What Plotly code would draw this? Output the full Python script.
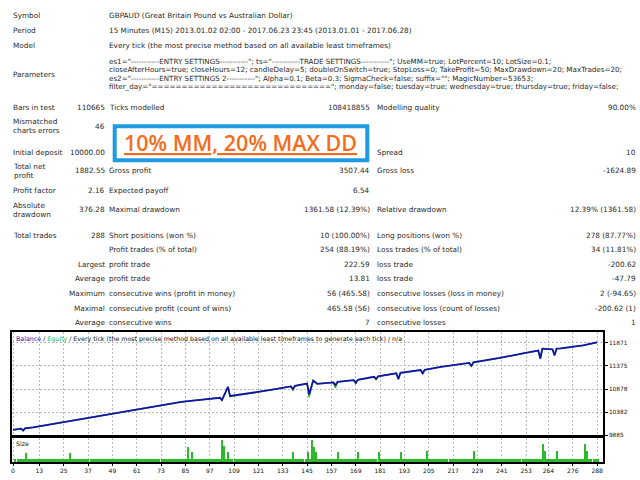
import plotly.graph_objects as go

W, H = 640, 480

# ---- report text -------------------------------------------------------
header_labels = ["Symbol", "Period", "Model", "Parameters"]
header_values = [
    "GBPAUD (Great Britain Pound vs Australian Dollar)",
    "15 Minutes (M15) 2013.01.02 02:00 - 2017.06.23 23:45 (2013.01.01 - 2017.06.28)",
    "Every tick (the most precise method based on all available least timeframes)",
]
param_lines = [
    'es1="-----------ENTRY SETTINGS-----------"; ts="-----------TRADE SETTINGS-----------"; UseMM=true; LotPercent=10; LotSize=0.1;',
    "closeAfterHours=true; closeHours=12; candleDelay=5; doubleOnSwitch=true; StopLoss=0; TakeProfit=50; MaxDrawdown=20; MaxTrades=20;",
    'es2="-----------ENTRY SETTINGS 2-----------"; Alpha=0.1; Beta=0.3; SigmaCheck=false; suffix=""; MagicNumber=53653;',
    'filter_day="=============================="; monday=false; tuesday=true; wednesday=true; thursday=true; friday=false;',
]

stat_rows = [
    ("Bars in test", "110665", "Ticks modelled", "108418855", "Modelling quality", "90.00%"),
    ("Mismatched<br>charts errors", "46", "", "", "", ""),
    ("Initial deposit", "10000.00", "", "", "Spread", "10"),
    ("Total net<br>profit", "1882.55", "Gross profit", "3507.44", "Gross loss", "-1624.89"),
    ("Profit factor", "2.16", "Expected payoff", "6.54", "", ""),
    ("Absolute<br>drawdown", "376.28", "Maximal drawdown", "1361.58 (12.39%)",
     "Relative drawdown", "12.39% (1361.58)"),
    ("Total trades", "288", "Short positions (won %)", "10 (100.00%)",
     "Long positions (won %)", "278 (87.77%)"),
    ("", "", "Profit trades (% of total)", "254 (88.19%)", "Loss trades (% of total)", "34 (11.81%)"),
    ("", "Largest", "profit trade", "222.59", "loss trade", "-200.62"),
    ("", "Average", "profit trade", "13.81", "loss trade", "-47.79"),
    ("", "Maximum", "consecutive wins (profit in money)", "56 (465.58)",
     "consecutive losses (loss in money)", "2 (-94.65)"),
    ("", "Maximal", "consecutive profit (count of wins)", "465.58 (56)",
     "consecutive loss (count of losses)", "-200.62 (1)"),
    ("", "Average", "consecutive wins", "7", "consecutive losses", "1"),
]
stat_y = [107.7, 127, 153, 172, 192, 211, 236.5, 251.5, 266, 280.5, 295.5, 310, 324.5]

banner_text = "10% MM, 20% MAX DD"

# ---- chart data ----------------------------------------------------------
trades = [0, 4, 5, 6, 10, 20, 30, 36, 45, 59, 70, 83, 90, 96, 102, 103, 106, 107,
          110, 120, 130, 137, 138, 139, 145, 146, 148, 150, 158, 159, 160, 168,
          169, 170, 178, 179, 180, 189, 190, 191, 201, 202, 203, 211, 225, 226,
          227, 240, 252, 259, 260, 261, 266, 267, 268, 270, 281, 288]
balance = [10000, 10028, 9990, 10035, 10055, 10130, 10200, 10250, 10320, 10430,
           10505, 10600, 10635, 10665, 10690, 10640, 10925, 10730, 10745, 10810,
           10880, 10935, 10880, 10945, 10995, 10760, 11060, 10990, 11020, 10960,
           11030, 11070, 11010, 11075, 11140, 11095, 11150, 11215, 11095, 11225,
           11285, 11215, 11290, 11355, 11440, 11375, 11450, 11545, 11650, 11705,
           11535, 11745, 11730, 11605, 11745, 11750, 11815, 11882.55]
equity = [10000, 10028, 9975, 10035, 10055, 10130, 10200, 10250, 10320, 10430,
          10505, 10600, 10635, 10665, 10690, 10630, 10925, 10715, 10735, 10810,
          10880, 10935, 10840, 10945, 10995, 10700, 11060, 10990, 11020, 10900,
          11030, 11070, 10995, 11075, 11140, 11080, 11150, 11215, 11080, 11225,
          11285, 11200, 11290, 11355, 11440, 11360, 11450, 11545, 11650, 11705,
          11520, 11745, 11730, 11590, 11745, 11750, 11815, 11882.55]

sizes = [
    0.10, 0.10, 0.10, 0.10, 0.10, 0.30, 0.10, 0.10, 0.10, 0.10, 0.10, 0.10,
    0.10, 0.10, 0.10, 0.10, 0.10, 0.10, 0.10, 0.10, 0.10, 0.10, 0.10, 0.10,
    0.10, 0.10, 0.10, 0.30, 0.10, 0.10, 0.10, 0.10, 0.10, 0.10, 0.10, 0.10,
    0.10, 0.10, 0.10, 0.10, 0.10, 0.10, 0.10, 0.10, 0.10, 0.10, 0.10, 0.10,
    0.10, 0.10, 0.10, 0.10, 0.10, 0.10, 0.10, 0.10, 0.10, 0.10, 0.10, 0.10,
    0.10, 0.10, 0.10, 0.10, 0.10, 0.10, 0.10, 0.10, 0.10, 0.10, 0.10, 0.10,
    0.10, 0.10, 0.10, 0.10, 0.11, 0.10, 0.11, 0.11, 0.10, 0.11, 0.11, 0.11,
    0.11, 0.50, 0.11, 0.33, 0.11, 0.11, 0.11, 0.11, 0.11, 0.11, 0.11, 0.11,
    0.11, 0.11, 0.11, 0.11, 0.11, 0.11, 0.72, 0.53, 0.11, 0.33, 0.11, 0.11,
    0.11, 0.11, 0.11, 0.11, 0.11, 0.11, 0.11, 0.11, 0.11, 0.11, 0.11, 0.11,
    0.11, 0.11, 0.11, 0.11, 0.11, 0.11, 0.11, 0.11, 0.11, 0.11, 0.11, 0.11,
    0.11, 0.11, 0.11, 0.11, 0.11, 0.33, 0.11, 0.11, 0.11, 0.11, 0.11, 0.11,
    0.33, 0.11, 0.72, 0.50, 0.33, 0.11, 0.11, 0.11, 0.11, 0.11, 0.11, 0.11,
    0.11, 0.11, 0.11, 0.33, 0.11, 0.11, 0.11, 0.11, 0.11, 0.11, 0.11, 0.11,
    0.11, 0.33, 0.11, 0.11, 0.11, 0.11, 0.11, 0.11, 0.11, 0.11, 0.11, 0.33,
    0.11, 0.11, 0.11, 0.11, 0.11, 0.11, 0.11, 0.11, 0.11, 0.11, 0.33, 0.11,
    0.12, 0.12, 0.12, 0.12, 0.12, 0.12, 0.12, 0.12, 0.12, 0.12, 0.12, 0.36,
    0.12, 0.12, 0.12, 0.12, 0.12, 0.12, 0.12, 0.12, 0.12, 0.12, 0.12, 0.12,
    0.12, 0.12, 0.12, 0.12, 0.12, 0.12, 0.12, 0.12, 0.12, 0.12, 0.36, 0.12,
    0.12, 0.12, 0.12, 0.12, 0.12, 0.12, 0.12, 0.12, 0.12, 0.12, 0.12, 0.12,
    0.12, 0.12, 0.12, 0.12, 0.12, 0.12, 0.12, 0.12, 0.12, 0.12, 0.12, 0.12,
    0.12, 0.12, 0.12, 0.12, 0.12, 0.12, 0.12, 0.12, 0.59, 0.38, 0.12, 0.12,
    0.12, 0.12, 0.12, 0.38, 0.12, 0.12, 0.12, 0.12, 0.12, 0.12, 0.12, 0.12,
    0.12, 0.12, 0.12, 0.12, 0.12, 0.59, 0.38, 0.12, 0.12, 0.12, 0.12, 0.12,
]
size_trades = list(range(1, len(sizes) + 1))

x_tick_labels = [0, 13, 25, 37, 49, 61, 73, 85, 97, 109, 121, 133, 145, 157, 169,
                 181, 193, 205, 217, 229, 241, 253, 264, 276, 288]
y_tick_vals = [9885, 10381.5, 10878, 11374.5, 11871]
y_tick_text = ["9885", "10382", "10878", "11375", "11871"]

# ---- helpers ------------------------------------------------------------
TEXT_FONT = "DejaVu Sans"
TEXT_COLOR = "#2a2a2a"
TEXT_SIZE = 7.3


def px(x):
    return x / W


def py(y):
    return 1 - y / H


annotations = []


def add_text(x, y, text, anchor="left", size=TEXT_SIZE, color=TEXT_COLOR, font=TEXT_FONT):
    if not text:
        return
    annotations.append(dict(
        x=px(x), y=py(y), xref="paper", yref="paper", text=text, showarrow=False,
        xanchor=anchor, yanchor="middle", align=anchor, borderpad=0,
        font=dict(family=font, size=size, color=color),
    ))


C1, C2, C3, C4, C5, C6 = 12, 105.5, 108.3, 371, 376, 637

header_y = [15.7, 31, 46]
for lab, val, yy in zip(header_labels, header_values, header_y):
    add_text(C1, yy, lab)
    add_text(C3, yy, val)
add_text(C1, 75, header_labels[3])
for i, line in enumerate(param_lines):
    add_text(C3, 61.7 + i * 8.6, line, size=7.15)

for row, yy in zip(stat_rows, stat_y):
    add_text(C1, yy, row[0])
    add_text(C2, yy, row[1], "right")
    add_text(C3, yy, row[2])
    add_text(C4, yy, row[3], "right")
    add_text(C5, yy, row[4])
    add_text(C6, yy, row[5], "right")

# chart captions
add_text(14.5, 341,
         "<span style='color:#1414A8'>Balance</span> / "
         "<span style='color:#2EBD2E'>Equity</span> / Every tick (the most precise method "
         "based on all available least timeframes to generate each tick) / n/a",
         size=6.3, color="#111111")
add_text(14.5, 446, "Size", size=6.3, color="#111111")

# banner
annotations.append(dict(
    x=px(240.5), y=py(143), xref="paper", yref="paper", text=banner_text,
    showarrow=False, xanchor="center", yanchor="middle",
    font=dict(family="Open Sans", size=21.5, color="#F76B1C", weight=600,
              lineposition="under"),
))

shapes = [dict(
    type="rect", xref="paper", yref="paper",
    x0=px(114.7), x1=px(367.3), y0=py(161.3), y1=py(127),
    line=dict(color="#1E9BE0", width=4), fillcolor="white", layer="below",
)]

# ---- figure -------------------------------------------------------------
fig = go.Figure()
fig.add_trace(go.Scatter(x=trades, y=equity, mode="lines",
                         line=dict(color="#3CC83C", width=1.5),
                         xaxis="x", yaxis="y", hoverinfo="skip"))
fig.add_trace(go.Scatter(x=trades, y=balance, mode="lines",
                         line=dict(color="#1414A8", width=1.8),
                         xaxis="x", yaxis="y"))
fig.add_trace(go.Bar(x=size_trades, y=sizes, width=0.55,
                     marker=dict(color="#2DB82D", line=dict(width=0)),
                     xaxis="x2", yaxis="y2"))

x_range = [-0.74, 290.9]
grid = dict(gridcolor="#B8B8B8", griddash="2px,2px", gridwidth=1)
frame = dict(showline=True, mirror=True, linecolor="black", linewidth=1.5, zeroline=False)

fig.update_layout(
    width=W, height=H, margin=dict(l=0, r=0, t=0, b=0),
    paper_bgcolor="white", plot_bgcolor="white", showlegend=False,
    annotations=annotations, shapes=shapes,
    xaxis=dict(domain=[px(11.5), px(603)], range=x_range, anchor="y",
               tickvals=x_tick_labels, showticklabels=False, showgrid=True,
               **grid, **frame),
    yaxis=dict(domain=[py(438), py(334)], range=[9885, 12105], anchor="x",
               side="right", tickvals=y_tick_vals, ticktext=y_tick_text,
               tickfont=dict(family=TEXT_FONT, size=5.8, color="#111111"),
               ticks="outside", ticklen=3, tickcolor="black", showgrid=True,
               **grid, **frame),
    xaxis2=dict(domain=[px(11.5), px(603)], range=x_range, anchor="y2",
                tickvals=x_tick_labels, ticktext=[str(v) for v in x_tick_labels],
                tickfont=dict(family=TEXT_FONT, size=6, color="#111111"),
                ticks="outside", ticklen=2, tickcolor="black", showgrid=True,
                **grid, **frame),
    yaxis2=dict(domain=[py(465), py(440.5)], range=[0, 0.8], anchor="x2",
                showticklabels=False, showgrid=False, **frame),
    bargap=0,
)

fig.write_html("out.html", config={"displayModeBar": False},
               post_script="document.body.style.margin='0';"
                           "document.body.style.overflow='hidden';")
